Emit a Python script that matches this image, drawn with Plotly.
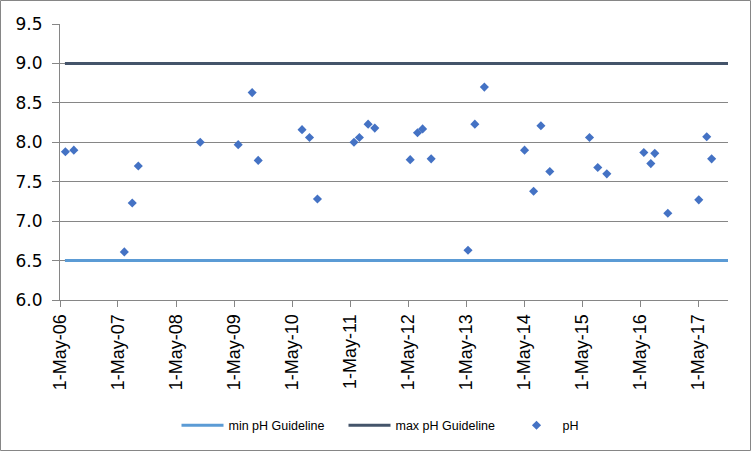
import plotly.graph_objects as go

dates = ["2006-06-04", "2006-07-27", "2007-06-10", "2007-07-30", "2007-09-06",
         "2008-09-30", "2009-05-27", "2009-08-23", "2009-09-30", "2010-07-03",
         "2010-08-19", "2010-10-08", "2011-05-26", "2011-06-29", "2011-08-23",
         "2011-10-04", "2012-05-14", "2012-06-29", "2012-07-31", "2012-09-23",
         "2013-05-13", "2013-06-25", "2013-08-24", "2014-05-04", "2014-06-30",
         "2014-08-15", "2014-10-10", "2015-06-17", "2015-08-08", "2015-10-04",
         "2016-05-24", "2016-07-07", "2016-08-01", "2016-10-22", "2017-05-05",
         "2017-06-24", "2017-07-25"]
ph = [7.88, 7.90, 6.61, 7.23, 7.70,
      8.00, 7.97, 8.63, 7.77, 8.16,
      8.06, 7.28, 8.00, 8.06, 8.23,
      8.18, 7.78, 8.12, 8.17, 7.79,
      6.63, 8.23, 8.70, 7.90, 7.38,
      8.21, 7.63, 8.06, 7.68, 7.60,
      7.87, 7.73, 7.86, 7.10, 7.27,
      8.07, 7.79]

guide_dates = ["2006-06-01", "2017-11-05"]
min_guideline = [6.5, 6.5]
max_guideline = [9.0, 9.0]

tick_dates = ["%d-05-01" % y for y in range(2006, 2018)]
tick_labels = ["1-May-%02d" % (y % 100) for y in range(2006, 2018)]

fig = go.Figure()
fig.add_trace(go.Scatter(x=guide_dates, y=min_guideline, mode="lines",
                         name="min pH Guideline",
                         line=dict(color="#5B9BD5", width=3)))
fig.add_trace(go.Scatter(x=guide_dates, y=max_guideline, mode="lines",
                         name="max pH Guideline",
                         line=dict(color="#44546A", width=3)))
fig.add_trace(go.Scatter(x=dates, y=ph, mode="markers", name="pH",
                         marker=dict(symbol="diamond", size=7, color="#4472C4")))

W, H = 751, 451
ml, mr, mt, mb = 60, 23, 24, 151
pw, ph_ = W - ml - mr, H - mt - mb

fig.update_layout(
    width=W, height=H,
    margin=dict(l=ml, r=mr, t=mt, b=mb, pad=0, autoexpand=False),
    paper_bgcolor="white", plot_bgcolor="white",
    font=dict(family="Liberation Sans, Arial, sans-serif", color="#000000"),
    showlegend=True,
    legend=dict(orientation="h", x=0.5 + 33 / pw, xanchor="center", y=-0.455,
                yanchor="middle",
                font=dict(family="Liberation Sans, Arial, sans-serif", size=12.5),
                itemwidth=42, tracegroupgap=0, entrywidth=110),
    xaxis=dict(type="date", range=["2006-05-01", "2017-11-05"],
               tickvals=tick_dates, ticktext=tick_labels, tickangle=-90,
               tickfont=dict(family="Liberation Sans, Arial, sans-serif", size=18),
               showgrid=False, zeroline=False,
               showline=True, linecolor="#868686", linewidth=1, automargin=False,
               ticks="outside", ticklen=6, tickcolor="#868686"),
    yaxis=dict(range=[6.0, 9.5], dtick=0.5, tick0=6.0, tickformat=".1f",
               tickfont=dict(family="DejaVu Sans, Verdana, sans-serif", size=17),
               showgrid=True, gridcolor="#868686", ticklabelstandoff=6,
               gridwidth=1, zeroline=False, showline=True, linecolor="#868686",
               linewidth=1, ticks="outside", ticklen=7, tickcolor="#868686",
               automargin=False),
    shapes=[dict(type="rect", xref="paper", yref="paper",
                 x0=(0.5 - ml) / pw, x1=(W - 0.5 - ml) / pw,
                 y0=-(H - 0.5 - mt - ph_) / ph_, y1=(ph_ + mt - 0.5) / ph_,
                 line=dict(color="#868686", width=1), fillcolor="rgba(0,0,0,0)",
                 layer="below")],
)

fig.write_html("out.html", config={"displayModeBar": False},
               post_script="document.body.style.margin='0';")
